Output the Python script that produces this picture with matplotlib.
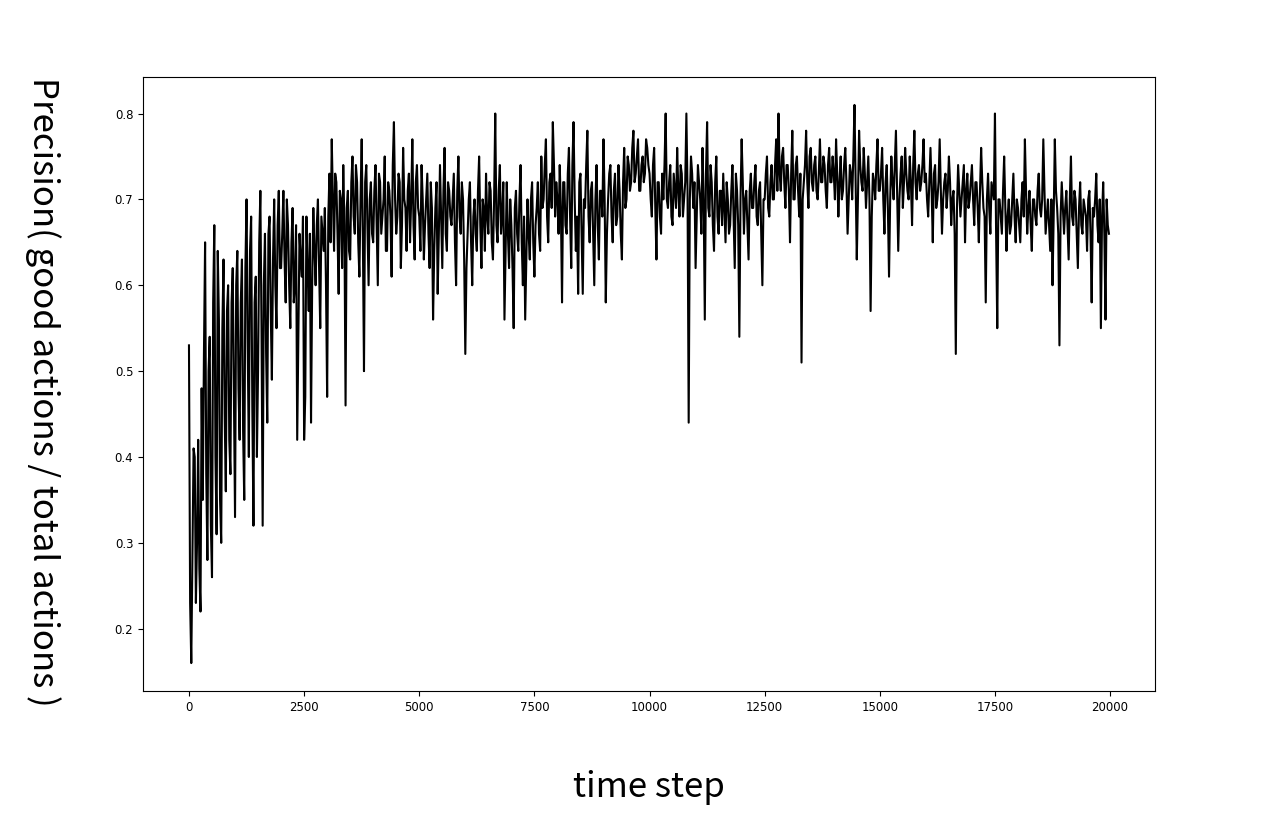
import numpy as np
import matplotlib
matplotlib.use("Agg")
import matplotlib.pyplot as plt

# precision; seg_* = values at steps 0, 50, 100 ... of each 1000-step block,
# mid_* = values at steps 25, 75, 125 ... of the same block
seg_00 = [0.53, 0.16, 0.41, 0.23, 0.42, 0.22, 0.35, 0.65, 0.28, 0.54, 0.26, 0.67, 0.31, 0.56, 0.30, 0.63, 0.36, 0.60, 0.38, 0.62]
seg_01 = [0.33, 0.64, 0.42, 0.63, 0.35, 0.70, 0.40, 0.68, 0.32, 0.61, 0.50, 0.71, 0.32, 0.66, 0.44, 0.68, 0.49, 0.70, 0.55, 0.71]
seg_02 = [0.62, 0.71, 0.58, 0.67, 0.55, 0.69, 0.60, 0.42, 0.66, 0.61, 0.42, 0.68, 0.57, 0.44, 0.69, 0.60, 0.70, 0.55, 0.66, 0.69]
seg_03 = [0.47, 0.73, 0.77, 0.64, 0.72, 0.59, 0.70, 0.74, 0.46, 0.71, 0.63, 0.75, 0.66, 0.72, 0.61, 0.77, 0.50, 0.74, 0.60, 0.72]
seg_04 = [0.65, 0.74, 0.60, 0.72, 0.68, 0.75, 0.64, 0.71, 0.61, 0.79, 0.66, 0.73, 0.62, 0.76, 0.69, 0.71, 0.65, 0.77, 0.63, 0.74]
seg_05 = [0.68, 0.74, 0.63, 0.70, 0.66, 0.72, 0.56, 0.69, 0.59, 0.74, 0.62, 0.76, 0.64, 0.71, 0.67, 0.73, 0.60, 0.75, 0.66, 0.70]
seg_06 = [0.52, 0.66, 0.72, 0.60, 0.70, 0.64, 0.75, 0.62, 0.69, 0.73, 0.66, 0.71, 0.63, 0.80, 0.65, 0.74, 0.68, 0.56, 0.72, 0.62]
seg_07 = [0.67, 0.55, 0.71, 0.64, 0.74, 0.60, 0.56, 0.70, 0.63, 0.72, 0.61, 0.69, 0.66, 0.75, 0.70, 0.77, 0.65, 0.73, 0.79, 0.68]
seg_08 = [0.70, 0.74, 0.58, 0.72, 0.66, 0.76, 0.62, 0.79, 0.64, 0.59, 0.73, 0.59, 0.69, 0.78, 0.65, 0.72, 0.60, 0.74, 0.63, 0.71]
seg_09 = [0.77, 0.58, 0.70, 0.74, 0.65, 0.73, 0.68, 0.71, 0.63, 0.76, 0.70, 0.74, 0.72, 0.78, 0.73, 0.77, 0.71, 0.75, 0.73, 0.76]
seg_10 = [0.73, 0.68, 0.76, 0.63, 0.72, 0.66, 0.70, 0.80, 0.69, 0.74, 0.67, 0.71, 0.76, 0.68, 0.73, 0.70, 0.80, 0.44, 0.75, 0.69]
seg_11 = [0.62, 0.74, 0.70, 0.76, 0.56, 0.79, 0.68, 0.72, 0.64, 0.75, 0.66, 0.71, 0.73, 0.65, 0.70, 0.67, 0.74, 0.62, 0.71, 0.54]
seg_12 = [0.77, 0.66, 0.71, 0.63, 0.73, 0.69, 0.74, 0.67, 0.72, 0.60, 0.70, 0.75, 0.68, 0.74, 0.70, 0.77, 0.80, 0.71, 0.76, 0.69]
seg_13 = [0.74, 0.65, 0.78, 0.70, 0.75, 0.68, 0.51, 0.72, 0.78, 0.69, 0.76, 0.71, 0.75, 0.70, 0.77, 0.72, 0.74, 0.69, 0.76, 0.72]
seg_14 = [0.73, 0.77, 0.68, 0.75, 0.71, 0.76, 0.66, 0.74, 0.70, 0.81, 0.63, 0.78, 0.72, 0.76, 0.69, 0.75, 0.57, 0.73, 0.70, 0.77]
seg_15 = [0.71, 0.76, 0.66, 0.74, 0.61, 0.75, 0.70, 0.78, 0.64, 0.73, 0.69, 0.76, 0.71, 0.75, 0.67, 0.78, 0.70, 0.74, 0.72, 0.77]
seg_16 = [0.73, 0.68, 0.76, 0.65, 0.74, 0.70, 0.77, 0.66, 0.72, 0.69, 0.75, 0.67, 0.71, 0.52, 0.74, 0.68, 0.72, 0.65, 0.73, 0.70]
seg_17 = [0.74, 0.67, 0.72, 0.65, 0.76, 0.69, 0.58, 0.73, 0.66, 0.71, 0.80, 0.55, 0.70, 0.66, 0.75, 0.64, 0.70, 0.67, 0.73, 0.65]
seg_18 = [0.69, 0.65, 0.72, 0.77, 0.66, 0.71, 0.64, 0.70, 0.67, 0.73, 0.68, 0.77, 0.66, 0.70, 0.64, 0.60, 0.77, 0.69, 0.53, 0.72]
seg_19 = [0.66, 0.71, 0.63, 0.75, 0.67, 0.70, 0.62, 0.72, 0.66, 0.69, 0.64, 0.71, 0.58, 0.68, 0.73, 0.65, 0.55, 0.72, 0.56, 0.67]

mid_00 = [0.23, 0.29, 0.40, 0.30, 0.27, 0.48, 0.52, 0.38, 0.50, 0.32, 0.58, 0.40, 0.64, 0.35, 0.55, 0.45, 0.57, 0.42, 0.58, 0.47]
mid_01 = [0.60, 0.48, 0.58, 0.43, 0.62, 0.53, 0.64, 0.46, 0.58, 0.40, 0.65, 0.55, 0.60, 0.52, 0.66, 0.57, 0.63, 0.60, 0.67, 0.62]
mid_02 = [0.66, 0.63, 0.70, 0.60, 0.65, 0.58, 0.67, 0.54, 0.63, 0.68, 0.47, 0.62, 0.66, 0.60, 0.64, 0.67, 0.62, 0.68, 0.64, 0.60]
mid_03 = [0.68, 0.65, 0.70, 0.73, 0.66, 0.71, 0.62, 0.67, 0.69, 0.64, 0.72, 0.68, 0.74, 0.65, 0.70, 0.66, 0.72, 0.67, 0.70, 0.66]
mid_04 = [0.71, 0.67, 0.73, 0.66, 0.70, 0.64, 0.72, 0.68, 0.74, 0.70, 0.68, 0.72, 0.67, 0.70, 0.64, 0.73, 0.70, 0.67, 0.72, 0.69]
mid_05 = [0.64, 0.70, 0.67, 0.73, 0.62, 0.69, 0.64, 0.72, 0.66, 0.68, 0.71, 0.66, 0.72, 0.68, 0.70, 0.65, 0.71, 0.68, 0.72, 0.63]
mid_06 = [0.62, 0.70, 0.65, 0.68, 0.66, 0.71, 0.67, 0.70, 0.64, 0.68, 0.72, 0.65, 0.70, 0.67, 0.71, 0.66, 0.72, 0.64, 0.66, 0.70]
mid_07 = [0.62, 0.69, 0.66, 0.70, 0.65, 0.68, 0.63, 0.66, 0.70, 0.65, 0.67, 0.72, 0.64, 0.69, 0.74, 0.68, 0.72, 0.69, 0.74, 0.72]
mid_08 = [0.66, 0.69, 0.72, 0.67, 0.73, 0.68, 0.74, 0.70, 0.68, 0.72, 0.66, 0.70, 0.74, 0.68, 0.71, 0.66, 0.70, 0.67, 0.71, 0.68]
mid_09 = [0.70, 0.66, 0.73, 0.68, 0.71, 0.67, 0.74, 0.66, 0.72, 0.69, 0.75, 0.71, 0.76, 0.72, 0.75, 0.71, 0.74, 0.72, 0.77, 0.74]
mid_10 = [0.70, 0.74, 0.69, 0.72, 0.68, 0.73, 0.74, 0.70, 0.72, 0.68, 0.73, 0.69, 0.71, 0.74, 0.68, 0.72, 0.71, 0.70, 0.73, 0.72]
mid_11 = [0.68, 0.72, 0.66, 0.70, 0.73, 0.69, 0.74, 0.67, 0.72, 0.68, 0.71, 0.67, 0.69, 0.72, 0.66, 0.71, 0.68, 0.73, 0.67, 0.70]
mid_12 = [0.72, 0.70, 0.67, 0.71, 0.69, 0.72, 0.68, 0.71, 0.66, 0.70, 0.73, 0.69, 0.72, 0.70, 0.74, 0.71, 0.73, 0.75, 0.72, 0.74]
mid_13 = [0.71, 0.73, 0.70, 0.74, 0.71, 0.73, 0.70, 0.74, 0.72, 0.75, 0.72, 0.74, 0.71, 0.73, 0.72, 0.75, 0.71, 0.74, 0.72, 0.75]
mid_14 = [0.70, 0.73, 0.72, 0.70, 0.74, 0.72, 0.70, 0.73, 0.75, 0.72, 0.70, 0.74, 0.71, 0.73, 0.72, 0.70, 0.68, 0.72, 0.74, 0.71]
mid_15 = [0.73, 0.70, 0.72, 0.69, 0.70, 0.72, 0.74, 0.71, 0.70, 0.75, 0.72, 0.73, 0.70, 0.72, 0.74, 0.72, 0.73, 0.71, 0.74, 0.72]
mid_16 = [0.70, 0.72, 0.71, 0.73, 0.69, 0.72, 0.71, 0.70, 0.73, 0.71, 0.72, 0.70, 0.66, 0.69, 0.71, 0.70, 0.74, 0.71, 0.69, 0.72]
mid_17 = [0.70, 0.72, 0.69, 0.71, 0.72, 0.68, 0.70, 0.69, 0.72, 0.70, 0.66, 0.70, 0.68, 0.71, 0.69, 0.68, 0.66, 0.70, 0.68, 0.70]
mid_18 = [0.67, 0.70, 0.68, 0.71, 0.69, 0.67, 0.70, 0.68, 0.71, 0.69, 0.70, 0.71, 0.68, 0.67, 0.70, 0.68, 0.71, 0.66, 0.68, 0.69]
mid_19 = [0.69, 0.67, 0.70, 0.68, 0.71, 0.66, 0.69, 0.67, 0.70, 0.68, 0.70, 0.66, 0.69, 0.70, 0.67, 0.70, 0.68, 0.66, 0.70, 0.66]

segs = [seg_00, seg_01, seg_02, seg_03, seg_04, seg_05, seg_06, seg_07, seg_08, seg_09,
        seg_10, seg_11, seg_12, seg_13, seg_14, seg_15, seg_16, seg_17, seg_18, seg_19]
mids = [mid_00, mid_01, mid_02, mid_03, mid_04, mid_05, mid_06, mid_07, mid_08, mid_09,
        mid_10, mid_11, mid_12, mid_13, mid_14, mid_15, mid_16, mid_17, mid_18, mid_19]

# interleave: seg value, then the mid value 25 steps later
precision = np.column_stack((np.concatenate(segs), np.concatenate(mids))).ravel()
time_step = np.arange(len(precision)) * 25

label_font = ['Noto Sans CJK SC', 'DejaVu Sans']

fig = plt.figure(figsize=(12.8, 8.31), dpi=100)
ax = fig.add_axes([0.1117, 0.1685, 0.7906, 0.7388])
ax.plot(time_step, precision, color='k', linewidth=1.5)

ax.tick_params(labelsize=8.5)
ax.set_xlabel("time step", fontsize=25, family=label_font, va='center')
ax.xaxis.set_label_coords(0.5, -0.158)
ax.set_ylabel("Precision( good actions / total actions )", fontsize=25, family=label_font,
              rotation=-90, va='center', ha='center')
ax.yaxis.set_label_coords(-0.099, 0.487)

plt.savefig("out.png", dpi=100)
